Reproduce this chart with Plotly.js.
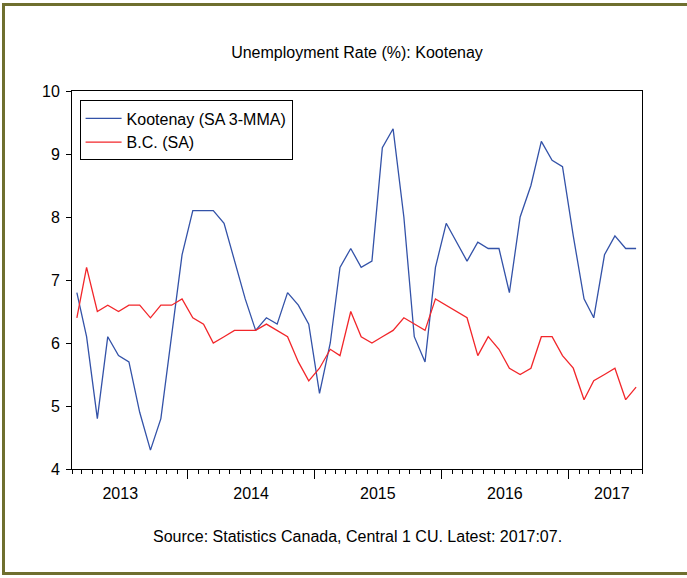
<!DOCTYPE html>
<html>
<head>
<meta charset="utf-8">
<script src="https://cdn.plot.ly/plotly-3.0.1.min.js"></script>
<style>
  html, body { margin: 0; padding: 0; background: #ffffff; }
  #wrap { position: relative; width: 687px; height: 578px; }
  #chart { width: 687px; height: 578px; }
  #frame { position: absolute; left: 2px; top: 3px; width: 685px; height: 572px;
           border-left: 3px solid #6f6f2f; border-top: 3px solid #6f6f2f; border-bottom: 3px solid #6f6f2f;
           box-sizing: border-box; pointer-events: none; }
</style>
</head>
<body>
<div id="wrap">
  <div id="chart"></div>
  <div id="frame"></div>
</div>
<script>
// Monthly observations, 2013:02 - 2017:07
const months = [
  '2013-02','2013-03','2013-04','2013-05','2013-06','2013-07','2013-08','2013-09','2013-10','2013-11','2013-12',
  '2014-01','2014-02','2014-03','2014-04','2014-05','2014-06','2014-07','2014-08','2014-09','2014-10','2014-11','2014-12',
  '2015-01','2015-02','2015-03','2015-04','2015-05','2015-06','2015-07','2015-08','2015-09','2015-10','2015-11','2015-12',
  '2016-01','2016-02','2016-03','2016-04','2016-05','2016-06','2016-07','2016-08','2016-09','2016-10','2016-11','2016-12',
  '2017-01','2017-02','2017-03','2017-04','2017-05','2017-06','2017-07'
];
const kootenay = [6.8,6.1,4.8,6.1,5.8,5.7,4.9,4.3,4.8,6.1,7.4,8.1,8.1,8.1,7.9,7.3,6.7,6.2,6.4,6.3,
                  6.8,6.6,6.3,5.2,6.0,7.2,7.5,7.2,7.3,9.1,9.4,8.0,6.1,5.7,7.2,7.9,7.6,7.3,7.6,7.5,
                  7.5,6.8,8.0,8.5,9.2,8.9,8.8,7.7,6.7,6.4,7.4,7.7,7.5,7.5];
const bc = [6.4,7.2,6.5,6.6,6.5,6.6,6.6,6.4,6.6,6.6,6.7,6.4,6.3,6.0,6.1,6.2,6.2,6.2,6.3,6.2,
            6.1,5.7,5.4,5.6,5.9,5.8,6.5,6.1,6.0,6.1,6.2,6.4,6.3,6.2,6.7,6.6,6.5,6.4,5.8,6.1,
            5.9,5.6,5.5,5.6,6.1,6.1,5.8,5.6,5.1,5.4,5.5,5.6,5.1,5.3];
const seriesNames = ['Kootenay (SA 3-MMA)', 'B.C. (SA)'];
const yearBoundaries = ['2014-01-01','2015-01-01','2016-01-01','2017-01-01'];
const yearLabelPos = ['2013-06-20','2014-07-02','2015-07-02','2016-07-02','2017-05-06'];
const yearLabels = ['2013','2014','2015','2016','2017'];
const yTicks = [4,5,6,7,8,9,10];

const xDates = months.map(m => m + '-15');
const FONT = 'Liberation Sans, Arial, sans-serif';
const TXT = '#000000';

const traces = [
  { x: xDates, y: kootenay, name: seriesNames[0], type: 'scatter', mode: 'lines',
    line: { color: '#3352a8', width: 1.3 }, xaxis: 'x', yaxis: 'y' },
  { x: xDates, y: bc, name: seriesNames[1], type: 'scatter', mode: 'lines',
    line: { color: '#f2262a', width: 1.3 }, xaxis: 'x', yaxis: 'y' }
];

const xRange = ['2013-02-01', '2017-08-01'];

const layout = {
  width: 687, height: 578,
  margin: { l: 72, r: 45, t: 91, b: 109, pad: 0 },
  paper_bgcolor: '#ffffff', plot_bgcolor: '#ffffff',
  font: { family: FONT, size: 16, color: TXT },
  title: { text: 'Unemployment Rate (%): Kootenay', font: { family: FONT, size: 16, color: TXT },
           xref: 'paper', x: 0.5, xanchor: 'center', yref: 'container', y: 1 - 52/578, yanchor: 'middle' },
  showlegend: true,
  legend: { x: 0.0133, y: 0.975, xanchor: 'left', yanchor: 'top', bgcolor: '#ffffff',
            bordercolor: '#000000', borderwidth: 1, font: { family: FONT, size: 16, color: TXT },
            tracegroupgap: 0, itemwidth: 36 },
  xaxis: {
    type: 'date', range: xRange, fixedrange: true,
    tickmode: 'array', tickvals: yearBoundaries, showticklabels: false,
    ticks: 'outside', ticklen: 9, tickwidth: 1, tickcolor: '#000000',
    minor: { tickmode: 'linear', tick0: '2013-01-01', dtick: 'M1', ticks: 'outside', ticklen: 4, tickwidth: 1, tickcolor: '#000000', showgrid: false },
    showline: true, linecolor: '#000000', linewidth: 1, mirror: true,
    showgrid: false, zeroline: false
  },
  xaxis2: {
    type: 'date', range: xRange, overlaying: 'x', anchor: 'y', side: 'bottom', fixedrange: true,
    tickmode: 'array', tickvals: yearLabelPos, ticktext: yearLabels, ticks: '',
    ticklabelstandoff: 13,
    tickfont: { family: FONT, size: 16, color: TXT },
    showline: false, showgrid: false, zeroline: false
  },
  yaxis: {
    range: [4, 10], fixedrange: true, tickmode: 'array', tickvals: yTicks,
    ticks: 'outside', ticklen: 5, tickwidth: 1, tickcolor: '#000000',
    ticklabelstandoff: 3,
    tickfont: { family: FONT, size: 16, color: TXT },
    showline: true, linecolor: '#000000', linewidth: 1, mirror: true,
    showgrid: false, zeroline: false
  },
  annotations: [
    { text: 'Source: Statistics Canada, Central 1 CU. Latest: 2017:07.', xref: 'paper', yref: 'paper',
      x: 0.5, y: (469 - 536) / 378, xanchor: 'center', yanchor: 'middle', showarrow: false,
      font: { family: FONT, size: 16, color: TXT } }
  ]
};

// invisible helper trace to keep xaxis2 active
traces.push({ x: xRange, y: [null, null], xaxis: 'x2', yaxis: 'y', type: 'scatter', mode: 'lines',
              showlegend: false, hoverinfo: 'skip' });

Plotly.newPlot('chart', traces, layout, { displayModeBar: false, staticPlot: true });
</script>
</body>
</html>
